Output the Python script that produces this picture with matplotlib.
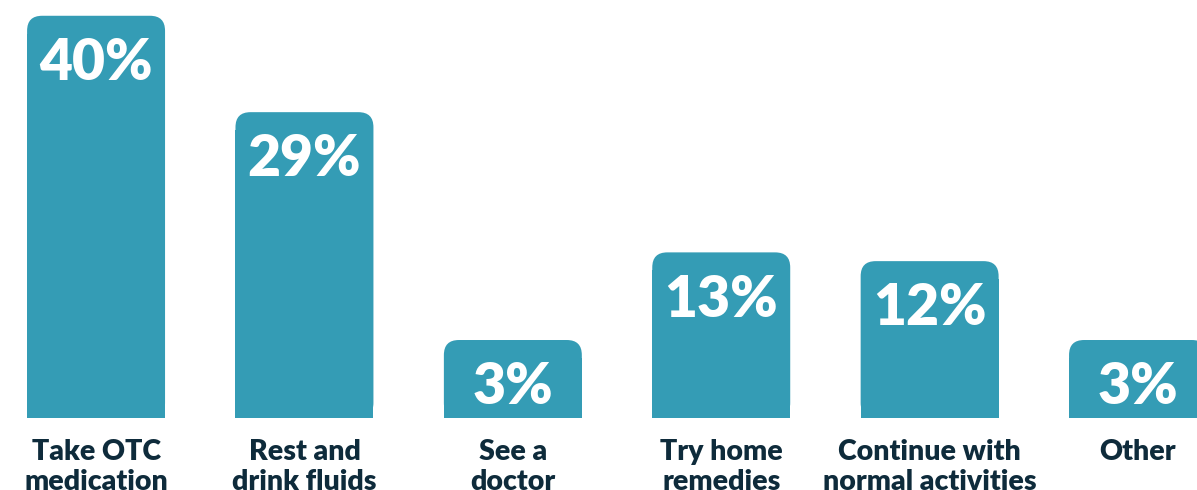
import numpy as np
import matplotlib.pyplot as plt
from matplotlib.patches import FancyBboxPatch

categories = ["Take OTC\nmedication", "Rest and\ndrink fluids", "See a\ndoctor",
              "Try home\nremedies", "Continue with\nnormal activities", "Other"]
values = [40, 29, 3, 13, 12, 3]

teal = "#349cb5"
navy = "#0e2b3b"
base = 5.9  # bars start below zero so the small ones still hold their label

fig = plt.figure(figsize=(11.97, 4.9), dpi=100)
ax = fig.add_axes([0, 72 / 490, 1, 418 / 490])

x = np.arange(len(values))
rects = ax.bar(x, np.array(values) + base, bottom=-base, width=0.662, color=teal, linewidth=0)

ax.set_xlim(-0.461, 5.283)
ax.set_ylim(-base, 41.8)

# rounded tops: px per x unit / px per y unit
aspect = (1197 / 5.744) / (418 / 47.7)
r = 0.072
for rect in rects:
    x0, y0 = rect.get_x(), rect.get_y()
    w, h = rect.get_width(), rect.get_height()
    ax.add_patch(FancyBboxPatch((x0, y0), w, h,
                                boxstyle="round,pad=0,rounding_size=%f" % r,
                                mutation_aspect=aspect, fc=teal, ec="none"))
    rect.set_height(h - r * aspect * 1.2)

for xi, v in zip(x, values):
    ax.annotate("%d%%" % v, xy=(xi, v), xytext=(0, -34), textcoords="offset points",
                ha="center", va="center", color="white", fontsize=41,
                fontweight="heavy", family="Lato")

for xi, lab in zip(x, categories):
    ax.annotate(lab, xy=(xi, -base), xytext=(0, -15), textcoords="offset points",
                ha="center", va="top", color=navy, fontsize=20.5, fontweight="heavy",
                family="Lato", linespacing=1.22, annotation_clip=False)

ax.axis("off")
fig.savefig("out.png", dpi=100)
